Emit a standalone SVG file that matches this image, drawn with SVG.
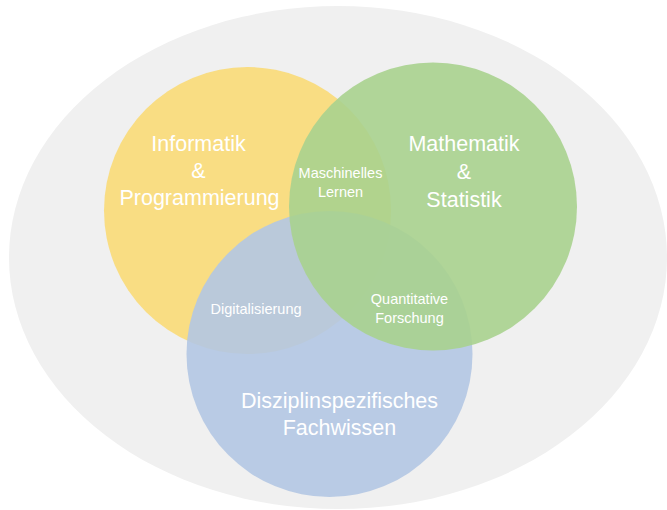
<svg xmlns="http://www.w3.org/2000/svg" width="667" height="510" viewBox="0 0 667 510">
<style>
.t{font-family:"Liberation Sans",Arial,sans-serif;fill:#ffffff;text-anchor:middle}
.big{font-size:21.5px}
.small{font-size:14.5px}
.c{fill-opacity:0.9}
</style>
<rect width="667" height="510" fill="#ffffff"/>
<g id="outer"><ellipse cx="338" cy="257.5" rx="329" ry="251.5" fill="#f0f0f0"/></g>
<g id="informatik"><circle class="c" cx="247.5" cy="210.5" r="143.5" fill="#fada77"/></g>
<g id="fachwissen"><circle class="c" cx="329.5" cy="354" r="143" fill="#b2c6e3"/></g>
<g id="mathematik"><circle class="c" cx="433" cy="206.5" r="144" fill="#a9d18e"/></g>
<g id="connectors"></g>
<g id="labels">
<text class="t big" x="198.5" y="151">Informatik</text>
<text class="t big" x="198.5" y="178">&amp;</text>
<text class="t big" x="199.5" y="205">Programmierung</text>
<text class="t big" x="464" y="151">Mathematik</text>
<text class="t big" x="464" y="179">&amp;</text>
<text class="t big" x="464" y="207">Statistik</text>
<text class="t big" x="339.5" y="408">Disziplinspezifisches</text>
<text class="t big" x="339.5" y="435">Fachwissen</text>
<text class="t small" x="340.5" y="178">Maschinelles</text>
<text class="t small" x="340.5" y="197">Lernen</text>
<text class="t small" x="256" y="314">Digitalisierung</text>
<text class="t small" x="409.5" y="304">Quantitative</text>
<text class="t small" x="409.5" y="323">Forschung</text>
</g>
</svg>
